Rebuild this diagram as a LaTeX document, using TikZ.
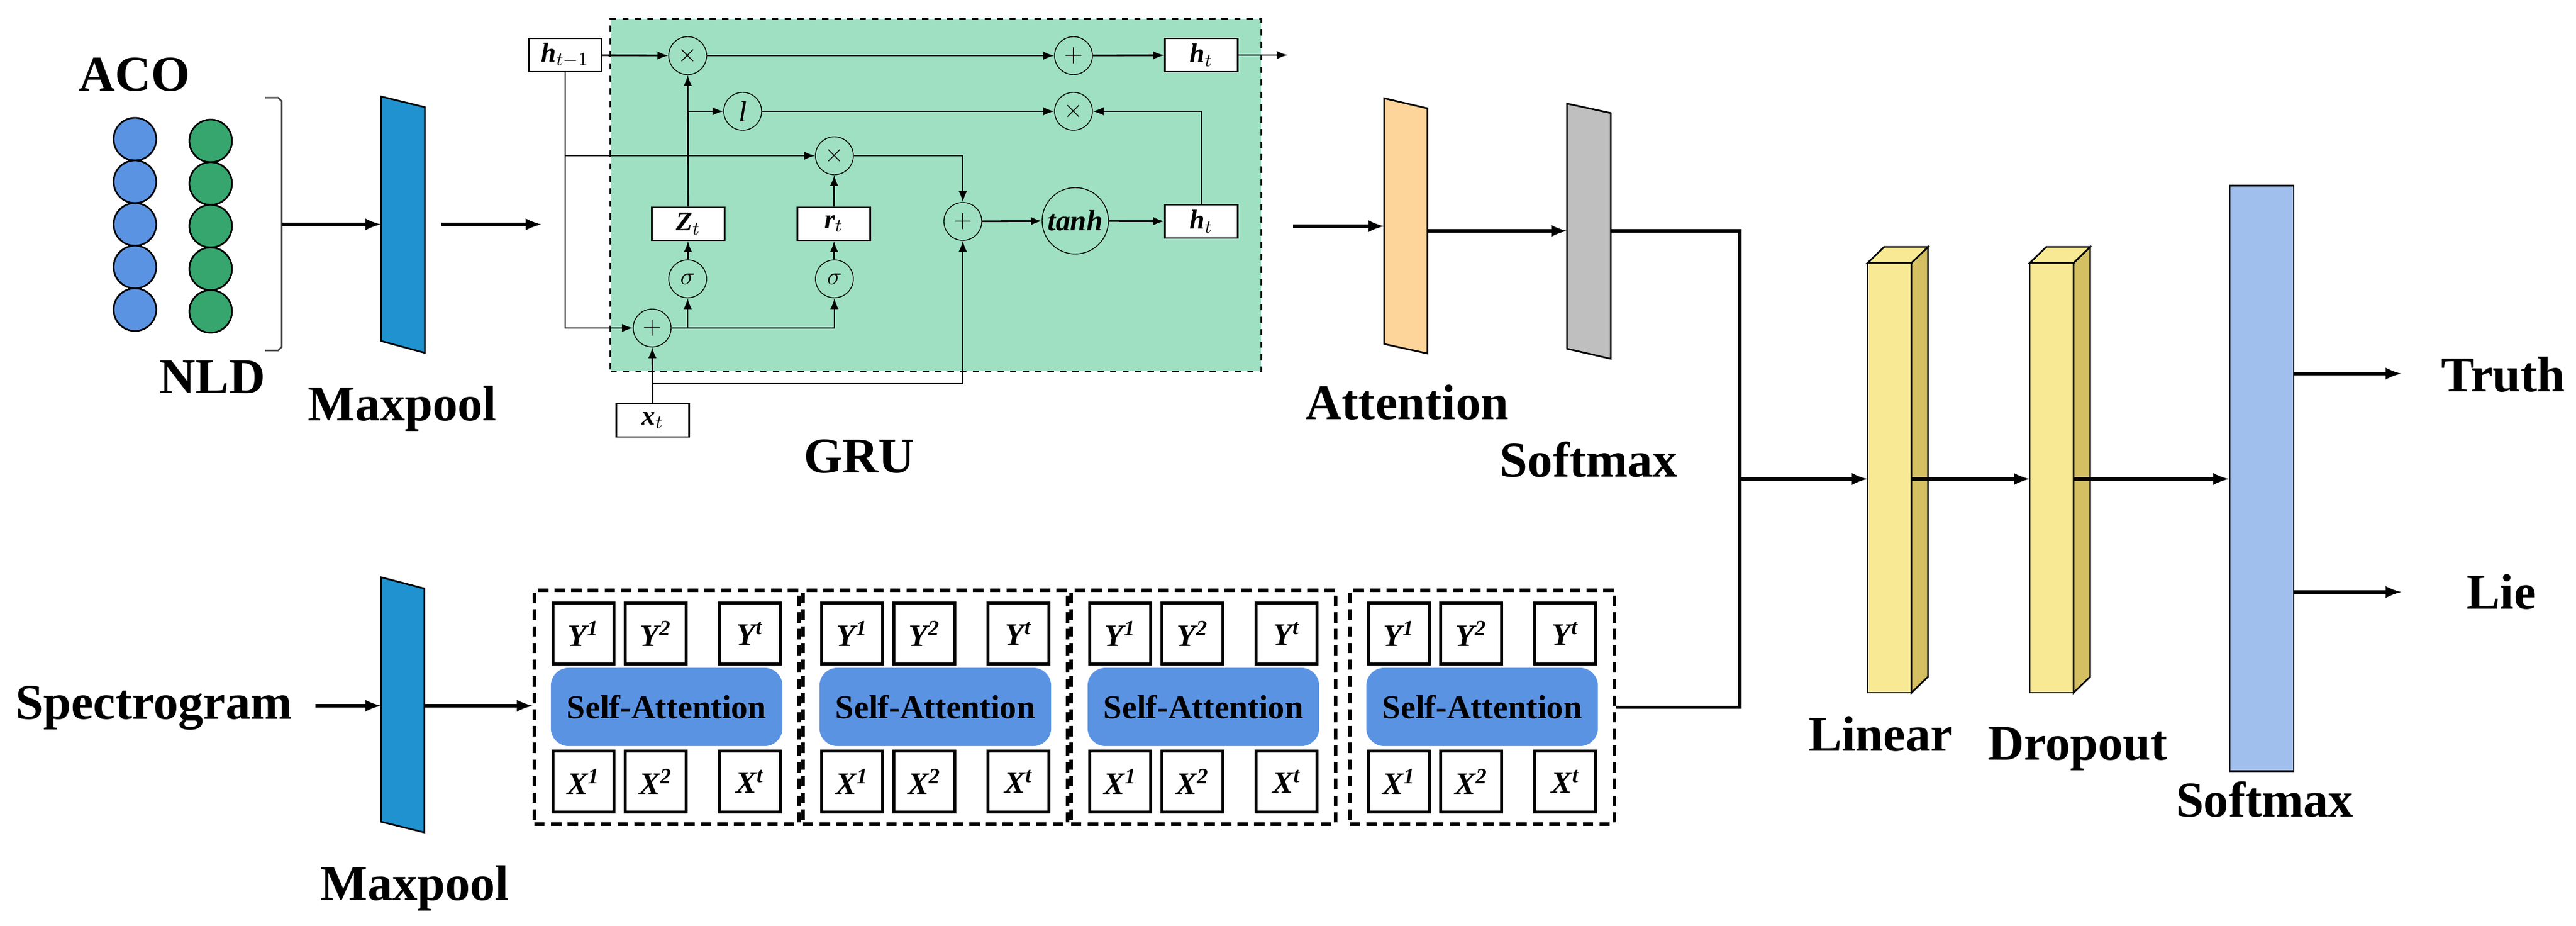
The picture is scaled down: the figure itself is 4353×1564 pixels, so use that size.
\documentclass[tikz,border=0pt]{standalone}
\usepackage{fontspec}
\setmainfont{Liberation Serif}
\usetikzlibrary{shapes,arrows,calc,positioning}
\definecolor{acoblue}{HTML}{5B93E3}
\definecolor{nldgreen}{HTML}{36A56E}
\definecolor{poolblue}{HTML}{2092CF}
\definecolor{grugreen}{HTML}{9FE0C3}
\definecolor{attorange}{HTML}{FDD59A}
\definecolor{smgray}{HTML}{BFBFBF}
\definecolor{linfront}{HTML}{F8EA95}
\definecolor{linside}{HTML}{D4C063}
\definecolor{outblue}{HTML}{A0BFED}
\begin{document}
\begin{tikzpicture}[x=0.01cm,y=-0.01cm]
            \tikzstyle{lbl} = [font=\fontsize{24}{28}\selectfont\bfseries,inner sep=0pt]
            \tikzstyle{dot} = [draw,thick,circle,minimum size=0.72cm,inner sep=0pt]
            \tikzstyle{op} = [draw,circle,minimum size=0.64cm,inner sep=0pt,font=\fontsize{12}{14}\selectfont]
            \tikzstyle{gbox} = [draw,thick,fill=white,minimum width=1.23cm,minimum height=0.56cm,inner sep=0pt,font=\fontsize{13}{15}\selectfont\bfseries\itshape]
            \tikzstyle{gline} = [thick]
            \tikzstyle{garr} = [thick,-latex]
            \tikzstyle{arr} = [line width=1.6pt,-latex]
            \tikzstyle{cell} = [draw,very thick,fill=white,minimum width=1.03cm,minimum height=1.03cm,inner sep=0pt,font=\fontsize{15}{17}\selectfont\bfseries\itshape]
            \tikzstyle{sa} = [fill=acoblue,rounded corners=3mm,minimum width=3.91cm,minimum height=1.32cm,font=\fontsize{16}{18}\selectfont\bfseries]
            \tikzstyle{blk} = [draw,line width=1.6pt,dash pattern=on 5pt off 3pt,minimum width=4.47cm,minimum height=3.95cm]
		\useasboundingbox (0,0) rectangle (4353,1564);
		% Inputs
		\node[lbl] (aco) at (227,126) {ACO};
		\node[lbl] (nld) at (359,637) {NLD};
		\foreach \i/\y in {1/235,2/307,3/379,4/451,5/523} {
			\node[dot,fill=acoblue] (a\i) at (228,\y) {};
			\node[dot,fill=nldgreen] (n\i) at (356,\y+3) {};
		}
		\draw[thick,black!75] (448,165) -- (470,165) -- (476,171) -- (476,586) -- (470,592) -- (448,592);
		\coordinate (brk) at (476,379);
		% Maxpool 1
		\draw[thick,fill=poolblue] (644,163) -- (718,181) -- (718,596) -- (644,576) -- cycle;
		\coordinate (mp1w) at (644,379);
		\coordinate (mp1o) at (746,379);
		\coordinate (gruin) at (915,379);
		\node[lbl] (mp1) at (680,690) {Maxpool};
		\draw[arr] (brk) -- (mp1w);
		\draw[arr] (mp1o) -- (gruin);
		% GRU
		\node[draw,thick,dashed,fill=grugreen,minimum width=10.99cm,minimum height=5.95cm] (grubox) at (1581.5,329.5) {};
		\node[lbl] (gru) at (1452,771) {GRU};
		\node[gbox] (hprev) at (955,93) {h$_{t-1}$};
		\node[op] (mulA) at (1162,94) {$\times$};
		\node[op] (addA) at (1814,94) {$+$};
		\node[gbox] (hout) at (2030,93) {h$_t$};
		\coordinate (outC) at (2176,93);
		\node[op,font=\fontsize{14}{16}\selectfont\itshape] (one) at (1255,188) {l};
		\node[op] (mulB) at (1814,188) {$\times$};
		\node[op] (mulR) at (1410,263) {$\times$};
		\node[gbox] (zt) at (1163,378) {Z$_t$};
		\node[gbox] (rt) at (1409,378) {r$_t$};
		\node[op] (addB) at (1627,374) {$+$};
		\node[op,minimum size=1.12cm,font=\fontsize{14}{16}\selectfont\bfseries\itshape] (tanh) at (1817,373) {tanh};
		\node[op] (sigZ) at (1162,471) {$\sigma$};
		\node[op] (sigR) at (1410,471) {$\sigma$};
		\node[gbox] (hmid) at (2030,374) {h$_t$};
		\node[op] (addC) at (1102,554) {$+$};
		\node[gbox] (xt) at (1103,710) {x$_t$};
		\coordinate (xloop) at (1103,648);
		\draw[garr] (hprev) -- (mulA);
		\draw[garr] (mulA) -- (addA);
		\draw[garr] (addA) -- (hout);
		\draw[garr] (hout) -- (outC);
		\draw[garr] (hprev.south) |- (addC);
		\draw[garr] (hprev.south |- mulR) -- (mulR);
		\draw[garr] (mulR) -| (addB);
		\draw[garr] (xt) -- (addC);
		\draw[garr] (xloop) -| (addB);
		\draw[garr] (addC) -| (sigR);
		\draw[garr] (sigZ |- addC) -- (sigZ);
		\draw[garr] (sigZ) -- (zt);
		\draw[garr] (sigR) -- (rt);
		\draw[garr] (rt) -- (mulR);
		\draw[garr] (zt) -- (mulA);
		\draw[garr] (zt.north |- one) -- (one);
		\draw[garr] (one) -- (mulB);
		\draw[garr] (hmid) |- (mulB);
		\draw[garr] (addB) -- (tanh);
		\draw[garr] (tanh) -- (hmid);
		% Attention and Softmax
		\draw[thick,fill=attorange] (2339,166) -- (2412,183) -- (2412,597) -- (2339,581) -- cycle;
		\draw[thick,fill=smgray] (2648,175) -- (2722,191) -- (2722,606) -- (2648,589) -- cycle;
		\coordinate (attin) at (2185,382);
		\coordinate (attw) at (2339,382);
		\coordinate (atte) at (2412,390);
		\coordinate (smw) at (2648,390);
		\coordinate (sme) at (2722,390);
		\coordinate (join) at (2940,809);
		\node[lbl] (att) at (2378,680) {Attention};
		\node[lbl] (sm1) at (2685,776) {Softmax};
		\draw[arr] (attin) -- (attw);
		\draw[arr] (atte) -- (smw);
		% Spectrogram branch
		\node[lbl] (spec) at (260,1196) {Spectrogram};
		\draw[thick,fill=poolblue] (644,975) -- (717,994) -- (717,1406) -- (644,1388) -- cycle;
		\coordinate (specout) at (533,1192);
		\coordinate (mp2w) at (644,1192);
		\coordinate (mp2e) at (717,1192);
		\node[lbl] (mp2) at (701,1500) {Maxpool};
		\draw[arr] (specout) -- (mp2w);
		\foreach \k/\bx in {1/903,2/1357,3/1810,4/2281} {
			\node[blk] (blk\k) at (\bx+223.5,1194.5) {};
			\node[sa] (sa\k) at (\bx+223.5,1194) {Self-Attention};
			\node[cell] (ya\k) at (\bx+83,1070) {Y\textsuperscript{1}};
			\node[cell] (yb\k) at (\bx+205,1070) {Y\textsuperscript{2}};
			\node[cell] (yc\k) at (\bx+364,1070) {Y\textsuperscript{t}};
			\node[cell] (xa\k) at (\bx+83,1320) {X\textsuperscript{1}};
			\node[cell] (xb\k) at (\bx+205,1320) {X\textsuperscript{2}};
			\node[cell] (xc\k) at (\bx+364,1320) {X\textsuperscript{t}};
		}
		\draw[arr] (mp2e) -- (blk1.west |- mp2e);
		\draw[line width=1.6pt] (sme) -| (join) |- (blk4.east);
		% Classifier
		\foreach \n/\dx in {lin/0,drop/274} {
			\fill[linfront,draw=black,thick] (3156+\dx,444) rectangle (3230+\dx,1170);
			\draw[thick,fill=linside] (3230+\dx,444) -- (3258+\dx,417) -- (3258+\dx,1143) -- (3230+\dx,1170) -- cycle;
			\draw[thick,fill=linfront] (3156+\dx,444) -- (3184+\dx,417) -- (3258+\dx,417) -- (3230+\dx,444) -- cycle;
			\coordinate (\n w) at (3156+\dx,809);
			\coordinate (\n e) at (3230+\dx,809);
		}
		\node[lbl] (lin) at (3178,1240) {Linear};
		\node[lbl] (drop) at (3511,1265) {Dropout};
		\node[draw,thick,fill=outblue,minimum width=1.08cm,minimum height=9.88cm] (out) at (3822,808) {};
		\node[lbl] (sm2) at (3827,1350) {Softmax};
		\node[lbl] (truth) at (4230,633) {Truth};
		\node[lbl] (lie) at (4227,1000) {Lie};
		\coordinate (truthin) at (4058,631);
		\coordinate (liein) at (4058,1000);
		\draw[arr] (join) -- (linw);
		\draw[arr] (line) -- (dropw);
		\draw[arr] (drope) -- (out.west |- drope);
		\draw[arr] (out.east |- truthin) -- (truthin);
		\draw[arr] (out.east |- liein) -- (liein);
		\end{tikzpicture}
\end{document}
